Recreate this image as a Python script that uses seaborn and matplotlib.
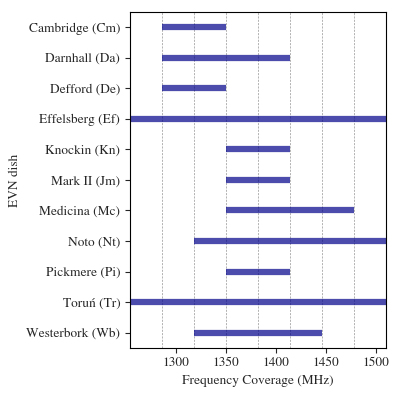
import matplotlib
matplotlib.use("Agg")
import matplotlib.pyplot as plt
import seaborn as sns
import pandas as pd

dishes = ["Cambridge (Cm)", "Darnhall (Da)", "Defford (De)", "Effelsberg (Ef)",
          "Knockin (Kn)", "Mark II (Jm)", "Medicina (Mc)", "Noto (Nt)",
          "Pickmere (Pi)", "Toruń (Tr)", "Westerbork (Wb)"]
start_mhz = [1286, 1286, 1286, 1254, 1350, 1350, 1350, 1318, 1350, 1254, 1318]
end_mhz = [1350, 1414, 1350, 1510, 1414, 1414, 1478, 1510, 1414, 1510, 1446]
subband_edges = [1286, 1318, 1350, 1382, 1414, 1446, 1478]
x_ticks = [1300, 1350, 1400, 1450, 1500]

sns.set_style("ticks")
plt.rcParams["font.family"] = ["STIXGeneral", "Liberation Serif", "DejaVu Serif"]
plt.rcParams["mathtext.fontset"] = "stix"

rows = []
for i, (d, s, e) in enumerate(zip(dishes, start_mhz, end_mhz)):
    rows.append({"dish": d, "idx": i, "freq": s})
    rows.append({"dish": d, "idx": i, "freq": e})
df = pd.DataFrame(rows)

fig = plt.figure(figsize=(3.99, 3.99), dpi=100)
ax = fig.add_axes([0.326, 0.128, 0.641, 0.842])

for x in subband_edges:
    ax.axvline(x, color="gray", linestyle=(0, (2.5, 1.5)), linewidth=0.6, alpha=0.7, zorder=0)

sns.lineplot(data=df, x="freq", y="idx", units="dish", estimator=None, sort=False,
             color="darkblue", alpha=0.7, linewidth=4.5, solid_capstyle="butt", ax=ax,
             legend=False)

fs = 9.6
ax.set_xlim(1254, 1510)
ax.set_ylim(len(dishes) - 0.5, -0.5)
ax.set_yticks(range(len(dishes)))
ax.set_yticklabels(dishes, fontsize=fs)
ax.set_xticks(x_ticks)
ax.set_xticklabels([str(t) for t in x_ticks], fontsize=fs)
ax.set_xlabel("Frequency Coverage (MHz)", fontsize=fs)
ax.set_ylabel("EVN dish", fontsize=fs)
for sp in ax.spines.values():
    sp.set_visible(True)
    sp.set_color("black")
    sp.set_linewidth(0.8)
ax.tick_params(axis="both", direction="out", length=3.5, width=0.8, top=False, right=False)

fig.savefig("out.png", dpi=100)
